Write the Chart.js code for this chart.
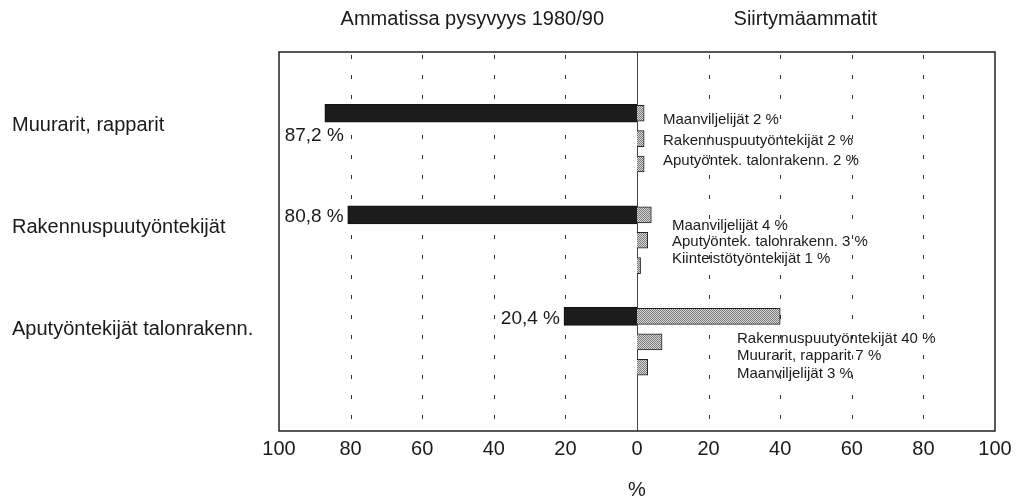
<!DOCTYPE html>
<html>
<head>
<meta charset="utf-8">
<script src="https://cdn.jsdelivr.net/npm/chart.js@4"></script>
<style>
  body { margin: 0; background: #fff; }
  canvas { display: block; }
</style>
</head>
<body>
<canvas id="flowChart" width="1024" height="500"></canvas>
<script>
// ammatit (vasen sarake)
const groups = ['Muurarit, rapparit', 'Rakennuspuutyöntekijät', 'Aputyöntekijät talonrakenn.'];
// ammatissa pysyneet, %
const stayShare = [87.2, 80.8, 20.4];
const stayLabels = ['87,2 %', '80,8 %', '20,4 %'];
// siirtymäammatit ja osuudet, %
const transferNames = [
    ['Maanviljelijät', 'Rakennuspuutyöntekijät', 'Aputyöntek. talonrakenn.'],
    ['Maanviljelijät', 'Aputyöntek. talonrakenn.', 'Kiinteistötyöntekijät'],
    ['Rakennuspuutyöntekijät', 'Muurarit, rapparit', 'Maanviljelijät']
];
const transferShare = [
    [2, 2, 2],
    [4, 3, 1],
    [40, 7, 3]
];
const xTickValues = [-100, -80, -60, -40, -20, 0, 20, 40, 60, 80, 100];
const headings = ['Ammatissa pysyvyys 1980/90', 'Siirtymäammatit'];

const FONT = "'Liberation Sans', Arial, sans-serif";
const ROWS_PER_GROUP = 4; // 3 riviä + väli

// harmaa rasterikuvio siirtymäpalkeille
function makePattern() {
    const c = document.createElement('canvas');
    c.width = 2; c.height = 2;
    const g = c.getContext('2d');
    g.fillStyle = '#d8d8d8'; g.fillRect(0, 0, 2, 2);
    g.fillStyle = '#7a7a7a'; g.fillRect(0, 0, 1, 1); g.fillRect(1, 1, 1, 1);
    return g.createPattern(c, 'repeat');
}

const stayData = stayShare.map((v, g) => ({ x: -v, y: g * ROWS_PER_GROUP }));
const transferData = [];
transferShare.forEach((list, g) => {
    list.forEach((v, s) => transferData.push({ x: v, y: g * ROWS_PER_GROUP + s }));
});

// sijoittelu siirtymäammattien teksteille (px)
const noteLayout = [
    { dx: 26, dy: 7, step: 20.5 },
    { dx: 35, dy: 11, step: 16.5 },
    { dx: 100, dy: 22, step: 17.5 }
];

const framePlugin = {
    id: 'frame',
    beforeDatasetsDraw(chart) {
        const { ctx, chartArea: a, scales: { x } } = chart;
        ctx.save();
        // katkoviivat
        ctx.strokeStyle = '#333';
        ctx.lineWidth = 1;
        ctx.setLineDash([4, 16]);
        xTickValues.forEach(v => {
            if (v === 0 || Math.abs(v) === 100) return;
            const px = Math.round(x.getPixelForValue(v)) + 0.5;
            ctx.beginPath();
            ctx.moveTo(px, a.top + 3);
            ctx.lineTo(px, a.bottom);
            ctx.stroke();
        });
        ctx.setLineDash([]);
        // nollaviiva
        const z = Math.round(x.getPixelForValue(0)) + 0.5;
        ctx.strokeStyle = '#444';
        ctx.beginPath();
        ctx.moveTo(z, a.top);
        ctx.lineTo(z, a.bottom);
        ctx.stroke();
        // kehys
        ctx.strokeStyle = '#222';
        ctx.lineWidth = 1.5;
        ctx.strokeRect(a.left, a.top, a.right - a.left, a.bottom - a.top);
        ctx.restore();
    },
    afterDatasetsDraw(chart) {
        const { ctx, chartArea: a, scales: { x, y } } = chart;
        ctx.save();
        ctx.fillStyle = '#1a1a1a';

        // otsikot
        ctx.font = '20px ' + FONT;
        ctx.textAlign = 'center';
        ctx.textBaseline = 'middle';
        ctx.fillText(headings[0], x.getPixelForValue(-46), 19);
        ctx.fillText(headings[1], x.getPixelForValue(47), 19);

        // ammatit vasemmalla
        ctx.textAlign = 'left';
        groups.forEach((name, g) => {
            ctx.fillText(name, 12, y.getPixelForValue(g * ROWS_PER_GROUP + 0.5));
        });

        // pysyvyysprosentit
        ctx.font = '19px ' + FONT;
        ctx.textAlign = 'right';
        const stayMeta = chart.getDatasetMeta(0);
        stayMeta.data.forEach((bar, g) => {
            const label = stayLabels[g];
            const w = ctx.measureText(label).width;
            if (bar.x - a.left < w + 8) {
                ctx.fillText(label, bar.x + 19, bar.y + 23);
            } else {
                ctx.fillText(label, bar.x - 4, bar.y + 2);
            }
        });

        // siirtymäammatit
        ctx.font = '15px ' + FONT;
        ctx.textAlign = 'left';
        const z = x.getPixelForValue(0);
        transferNames.forEach((names, g) => {
            const L = noteLayout[g];
            const y0 = y.getPixelForValue(g * ROWS_PER_GROUP);
            names.forEach((n, s) => {
                ctx.fillText(n + ' ' + transferShare[g][s] + ' %', z + L.dx, y0 + L.dy + s * L.step);
            });
        });
        ctx.restore();
    }
};

const ctx = document.getElementById('flowChart').getContext('2d');

new Chart(ctx, {
    type: 'bar',
    data: {
        datasets: [
            {
                label: 'Ammatissa pysyvyys',
                data: stayData,
                backgroundColor: '#1c1c1c',
                borderColor: '#111',
                borderWidth: 1,
                barThickness: 18,
                grouped: false
            },
            {
                label: 'Siirtymäammatit',
                data: transferData,
                backgroundColor: makePattern(),
                borderColor: '#222',
                borderWidth: 1,
                barThickness: 16,
                grouped: false
            }
        ]
    },
    options: {
        indexAxis: 'y',
        responsive: false,
        animation: false,
        layout: { padding: { left: 279, right: 29, top: 52, bottom: 0 } },
        plugins: {
            legend: { display: false },
            tooltip: { enabled: false }
        },
        scales: {
            x: {
                type: 'linear',
                min: -100,
                max: 100,
                afterBuildTicks: scale => { scale.ticks = xTickValues.map(v => ({ value: v })); },
                afterFit: scale => { scale.height = 69; },
                grid: { display: false, drawTicks: false },
                border: { display: false },
                ticks: {
                    padding: 6,
                    color: '#1a1a1a',
                    font: { family: FONT, size: 20 },
                    callback: v => Math.abs(v)
                },
                title: {
                    display: true,
                    text: '%',
                    color: '#1a1a1a',
                    padding: { top: 4, bottom: 0 },
                    font: { family: FONT, size: 20, lineHeight: 1 }
                }
            },
            y: {
                type: 'linear',
                reverse: true,
                offset: false,
                min: -2.41,
                max: 12.51,
                display: false
            }
        }
    },
    plugins: [framePlugin]
});
</script>
</body>
</html>
